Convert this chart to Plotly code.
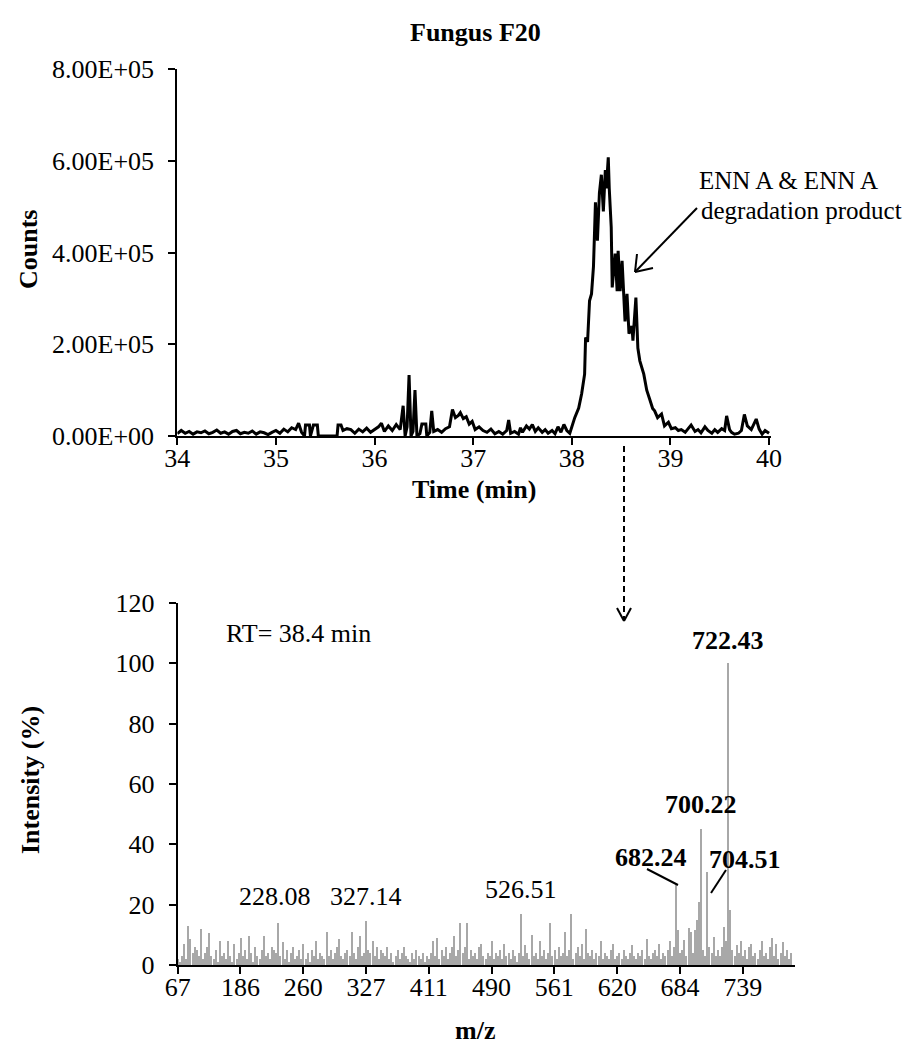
import plotly.graph_objects as go

# ---------------- Data: chromatogram (top) ----------------
time_min = [
    34.00, 34.04, 34.08, 34.12, 34.16, 34.20, 34.24, 34.28, 34.32, 34.36,
    34.40, 34.44, 34.48, 34.52, 34.56, 34.60, 34.64, 34.68, 34.72, 34.76,
    34.80, 34.84, 34.88, 34.92, 34.96, 35.00, 35.04, 35.08, 35.12, 35.16,
    35.20, 35.23, 35.26, 35.29, 35.30, 35.34, 35.35, 35.38, 35.42, 35.43,
    35.62, 35.63, 35.66, 35.68, 35.72, 35.76, 35.80, 35.84, 35.88, 35.92,
    35.96, 36.00, 36.04, 36.07, 36.10, 36.14, 36.18, 36.22, 36.26, 36.29,
    36.31, 36.33, 36.35, 36.37, 36.39, 36.41, 36.43, 36.46, 36.48, 36.52,
    36.53, 36.56, 36.58, 36.60, 36.64, 36.68, 36.72, 36.76, 36.79, 36.82,
    36.85, 36.87, 36.90, 36.93, 36.96, 36.99, 37.02, 37.06, 37.10, 37.14,
    37.18, 37.22, 37.26, 37.30, 37.34, 37.36, 37.38, 37.42, 37.46, 37.48,
    37.50, 37.54, 37.57, 37.60, 37.63, 37.66, 37.70, 37.73, 37.76, 37.80,
    37.83, 37.86, 37.89, 37.92, 37.95, 37.98, 38.00, 38.03, 38.07, 38.10,
    38.13, 38.14, 38.16, 38.18, 38.20, 38.22, 38.24, 38.26, 38.28, 38.30,
    38.32, 38.34, 38.35, 38.37, 38.38, 38.40, 38.41, 38.44, 38.46, 38.47,
    38.49, 38.51, 38.54, 38.56, 38.58, 38.61, 38.62, 38.65, 38.67, 38.69,
    38.73, 38.76, 38.79, 38.82, 38.84, 38.87, 38.91, 38.94, 38.98, 39.01,
    39.05, 39.08, 39.11, 39.15, 39.18, 39.21, 39.25, 39.28, 39.31, 39.35,
    39.38, 39.42, 39.45, 39.48, 39.52, 39.55, 39.57, 39.60, 39.62, 39.65,
    39.69, 39.72, 39.75, 39.78, 39.82, 39.85, 39.87, 39.90, 39.93, 39.96,
    40.00,
]
counts = [
    5000, 12000, 6000, 10000, 4000, 9000, 7000, 11000, 5000, 8000,
    13000, 6000, 9000, 4000, 10000, 12000, 5000, 8000, 6000, 11000,
    4000, 9000, 7000, 3000, 8000, 12000, 6000, 15000, 9000, 18000,
    14000, 28000, 8000, 0, 24000, 24000, 0, 24000, 24000, 0,
    0, 24000, 24000, 12000, 16000, 14000, 6000, 15000, 9000, 17000,
    8000, 15000, 20000, 28000, 10000, 22000, 12000, 25000, 14000, 66000,
    0, 20000, 133000, 0, 10000, 100000, 0, 5000, 26000, 26000,
    0, 8000, 55000, 10000, 14000, 8000, 16000, 20000, 58000, 40000,
    45000, 51000, 38000, 42000, 26000, 32000, 14000, 20000, 12000, 8000,
    15000, 5000, 10000, 4000, 12000, 35000, 6000, 10000, 4000, 18000,
    8000, 22000, 15000, 25000, 10000, 18000, 8000, 14000, 6000, 12000,
    5000, 20000, 8000, 25000, 12000, 6000, 20000, 40000, 61000, 92000,
    135000, 215000, 205000, 295000, 310000, 370000, 510000, 426000, 530000, 570000,
    490000, 580000, 540000, 608000, 540000, 455000, 324000, 398000, 316000, 404000,
    316000, 382000, 250000, 310000, 223000, 240000, 208000, 302000, 192000, 164000,
    135000, 100000, 80000, 60000, 55000, 40000, 48000, 22000, 30000, 16000,
    18000, 12000, 14000, 8000, 16000, 24000, 10000, 14000, 7000, 20000,
    12000, 6000, 14000, 8000, 16000, 12000, 44000, 14000, 8000, 4000,
    6000, 12000, 47000, 22000, 14000, 30000, 37000, 15000, 4000, 12000,
    6000,
]
count_ticks = [0, 200000, 400000, 600000, 800000]
count_tick_labels = ["0.00E+00", "2.00E+05", "4.00E+05", "6.00E+05", "8.00E+05"]
time_ticks = [34, 35, 36, 37, 38, 39, 40]

# ---------------- Data: mass spectrum (bottom) ----------------
mz_tick_labels = ["67", "186", "260", "327", "411", "490", "561", "620", "684", "739"]
mz_tick_index = [0, 30, 60, 90, 120, 150, 180, 210, 240, 270]
intensity = [
    2, 1, 3, 7, 2, 13, 8.5, 4, 6, 5, 3, 12, 2, 4, 6, 10.5, 3, 2, 5, 1, 8, 3, 4, 2, 8, 3, 1, 7, 2, 4,
    9, 3, 5, 2, 9.5, 4, 1, 6, 3, 2, 5, 9.5, 3, 4, 2, 6, 5, 4, 14, 3, 7.5, 2, 5, 1, 4, 6, 2, 3, 5, 2,
    7, 2, 4, 1, 5, 3, 8, 2, 4, 3, 2, 11, 3, 5, 2, 4, 6, 8.5, 3, 2, 4, 5, 3, 11, 4, 2, 6, 9.5, 3, 4,
    14.7, 5, 4, 8, 3, 6, 2, 5, 4, 3, 6, 2, 4, 1, 3, 5, 2, 4, 6, 3, 2, 1, 4, 2, 5, 3, 2, 4, 1, 3,
    2, 4, 8, 3, 9, 2, 5, 3, 6, 2, 4, 6, 9.5, 3, 5, 14, 4, 6, 14, 2, 5, 3, 4, 2, 6, 7, 3, 2, 4, 3,
    8, 2, 4, 3, 5, 2, 7, 3, 4, 2, 5, 3, 1, 4, 17, 3, 6.5, 4, 2, 10, 3, 4, 2, 8, 3, 5, 2, 4, 14, 3,
    5, 2, 6, 3, 4, 11, 3, 5, 17, 2, 4, 6, 3, 7, 2, 12, 4, 3, 5, 2, 4, 3, 8, 2, 4, 3, 2, 5, 7, 2,
    3, 4, 2, 5, 3, 2, 4, 6.5, 3, 2, 4, 3, 5, 2, 8.5, 3, 2, 4, 5, 3, 7, 2, 4, 3, 5, 8, 3, 6, 26.5, 11.6,
    4, 5, 8.3, 3, 12.2, 11, 4, 11.6, 15, 21, 45, 5, 3, 30.8, 6, 4, 9.4, 3, 5, 3, 6, 12.5, 8, 100, 18.2, 5, 3, 6.6, 4, 8,
    3, 5, 2, 6, 7, 3, 4, 2, 5, 8, 3, 4, 2, 6, 9, 3, 7, 2, 4, 7.5, 3, 5, 2, 4,
]
bar_index = list(range(len(intensity)))

# page body margin is 8 px, so the figure is a little smaller than the window
OFF = 8
W, H = 919 - OFF, 1048 - OFF
FONT = "Liberation Serif"
FS = 26


def px(x):
    return (x - OFF) / W


def py(y):
    return 1 - (y - OFF) / H


fig = go.Figure()
fig.add_trace(go.Scatter(x=time_min, y=counts, mode="lines",
                         line=dict(color="black", width=3),
                         xaxis="x", yaxis="y", showlegend=False))
fig.add_trace(go.Bar(x=bar_index, y=intensity, width=0.55,
                     marker=dict(color="#a8a8a8", line=dict(width=0)),
                     xaxis="x2", yaxis="y2", showlegend=False))

axis_common = dict(showgrid=False, zeroline=False, showline=True, linecolor="black",
                   linewidth=2, ticks="outside", tickcolor="black", tickwidth=2,
                   ticklen=7, automargin=False,
                   tickfont=dict(family=FONT, size=FS, color="black"))

fig.update_layout(
    template="none",
    width=W, height=H, autosize=False,
    margin=dict(l=0, r=0, t=0, b=0, pad=0, autoexpand=False),
    paper_bgcolor="white", plot_bgcolor="white",
    bargap=0, showlegend=False,
    xaxis=dict(domain=[px(177.3), px(771)], range=[34, 40.02], tickvals=time_ticks,
               anchor="y", **axis_common),
    yaxis=dict(domain=[py(436), py(69.3)], range=[0, 800000], tickvals=count_ticks,
               ticktext=count_tick_labels, anchor="x", **axis_common),
    xaxis2=dict(domain=[px(177.7), px(795)], range=[0, 295], tickvals=mz_tick_index,
                ticktext=mz_tick_labels, anchor="y2", **axis_common),
    yaxis2=dict(domain=[py(965), py(603)], range=[0, 120], tickvals=[0, 20, 40, 60, 80, 100, 120],
                anchor="x2", **axis_common),
)
try:
    fig.update_xaxes(ticklabelstandoff=-9)
    fig.update_yaxes(ticklabelstandoff=9)
except Exception:
    pass

tf = dict(family=FONT, size=FS, color="black")
tf25 = dict(family=FONT, size=25, color="black")
annots = [
    dict(x=px(475), y=py(32), text="<b>Fungus F20</b>"),
    dict(x=px(28), y=py(250), text="<b>Counts</b>", textangle=-90),
    dict(x=px(474), y=py(489), text="<b>Time (min)</b>"),
    dict(x=px(30), y=py(780), text="<b>Intensity (%)</b>", textangle=-90),
    dict(x=px(475), y=py(1030), text="<b>m/z</b>"),
    dict(x=px(697), y=py(181), text="ENN A &amp; ENN A", xanchor="left", font=tf25),
    dict(x=px(699), y=py(211), text="degradation product", xanchor="left", font=tf25),
    dict(x=px(298), y=py(633), text="RT= 38.4 min"),
    dict(x=px(728), y=py(640), text="<b>722.43</b>"),
    dict(x=px(701), y=py(804), text="<b>700.22</b>"),
    dict(x=px(651), y=py(857), text="<b>682.24</b>"),
    dict(x=px(745), y=py(859), text="<b>704.51</b>"),
    dict(x=px(275), y=py(896), text="228.08"),
    dict(x=px(366), y=py(896), text="327.14"),
    dict(x=px(521), y=py(889), text="526.51"),
]
for a in annots:
    a.setdefault("xanchor", "center")
    a.setdefault("font", tf)
    fig.add_annotation(xref="paper", yref="paper", showarrow=False, yanchor="middle", **a)

line_k = dict(color="black", width=2)
# arrow to the peak
fig.add_shape(type="line", xref="paper", yref="paper", x0=px(697), y0=py(208),
              x1=px(635), y1=py(272), line=line_k)
fig.add_shape(type="line", xref="paper", yref="paper", x0=px(635), y0=py(272),
              x1=px(637), y1=py(254), line=line_k)
fig.add_shape(type="line", xref="paper", yref="paper", x0=px(635), y0=py(272),
              x1=px(653), y1=py(268), line=line_k)
# dashed vertical arrow
fig.add_shape(type="line", xref="paper", yref="paper", x0=px(624), x1=px(624),
              y0=py(446), y1=py(619), line=dict(color="black", width=2, dash="6px,4px"))
fig.add_shape(type="line", xref="paper", yref="paper", x0=px(624), y0=py(621),
              x1=px(617), y1=py(608), line=line_k)
fig.add_shape(type="line", xref="paper", yref="paper", x0=px(624), y0=py(621),
              x1=px(631), y1=py(608), line=line_k)
# leader lines
fig.add_shape(type="line", xref="paper", yref="paper", x0=px(647), y0=py(869),
              x1=px(678), y1=py(885), line=line_k)
fig.add_shape(type="line", xref="paper", yref="paper", x0=px(726), y0=py(870),
              x1=px(711), y1=py(893), line=line_k)

fig.write_html("out.html")
